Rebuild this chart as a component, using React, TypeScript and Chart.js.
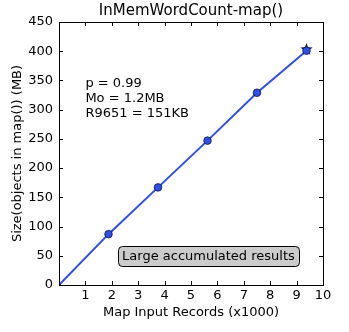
import React, { useEffect, useRef } from "react";
import { Chart, registerables } from "chart.js";
Chart.register(...registerables);

const TITLE = "InMemWordCount-map()";
const X_LABEL = "Map Input Records (x1000)";
const Y_LABEL = "Size(objects in map()) (MB)";
const recordsK = [0, 1.875, 3.75, 5.625, 7.5, 9.375];
const sizeMB = [0, 87, 167, 247, 329, 401];
const starX = [9.375];
const starY = [403];
const noteLines = ["p = 0.99", "Mo = 1.2MB", "R9651 = 151KB"];
const noteAnchor = { x: 1.0, y: 345 };
const boxText = "Large accumulated results";
const boxAnchor = { x: 5.66, y: 50 };

const FONT = "'DejaVu Sans', sans-serif";
const BLUE = "#2f4ee6";

const customPlugin = {
  id: "custom",
  beforeDatasetsDraw(chart: any) {
    const ctx = chart.ctx;
    const xs = chart.scales.x;
    const ys = chart.scales.y;
    const cx = xs.getPixelForValue(starX[0]);
    const cy = ys.getPixelForValue(starY[0]);
    ctx.save();
    ctx.beginPath();
    const R = 6.5, r = 2.7;
    for (let i = 0; i < 10; i++) {
      const a = -Math.PI / 2 + (i * Math.PI) / 5;
      const rad = i % 2 === 0 ? R : r;
      const px = cx + rad * Math.cos(a);
      const py = cy + rad * Math.sin(a);
      if (i === 0) ctx.moveTo(px, py);
      else ctx.lineTo(px, py);
    }
    ctx.closePath();
    ctx.fillStyle = "#1a1f4a";
    ctx.fill();
    ctx.restore();
  },
  afterDraw(chart: any) {
    const ctx = chart.ctx;
    const a = chart.chartArea;
    const xs = chart.scales.x;
    const ys = chart.scales.y;
    ctx.save();
    ctx.strokeStyle = "#000";
    ctx.lineWidth = 1;
    ctx.strokeRect(Math.round(a.left) + 0.5, Math.round(a.top) + 0.5, Math.round(a.right - a.left), Math.round(a.bottom - a.top));
    const tl = 4;
    ctx.beginPath();
    xs.ticks.forEach((t: any) => {
      const px = Math.round(xs.getPixelForValue(t.value)) + 0.5;
      ctx.moveTo(px, a.bottom);
      ctx.lineTo(px, a.bottom - tl);
      ctx.moveTo(px, a.top);
      ctx.lineTo(px, a.top + tl);
    });
    ys.ticks.forEach((t: any) => {
      const py = Math.round(ys.getPixelForValue(t.value)) + 0.5;
      ctx.moveTo(a.left, py);
      ctx.lineTo(a.left + tl, py);
      ctx.moveTo(a.right, py);
      ctx.lineTo(a.right - tl, py);
    });
    ctx.stroke();

    ctx.fillStyle = "#000";
    ctx.font = `13px ${FONT}`;
    ctx.textAlign = "center";
    ctx.textBaseline = "middle";
    xs.ticks.forEach((t: any) => {
      if (t.value === 0) return;
      ctx.fillText(String(t.value), xs.getPixelForValue(t.value), a.bottom + 11);
    });
    ctx.textAlign = "right";
    ys.ticks.forEach((t: any) => {
      ctx.fillText(String(t.value), a.left - 6, ys.getPixelForValue(t.value));
    });
    ctx.textAlign = "center";
    ctx.fillText(X_LABEL, (a.left + a.right) / 2, a.bottom + 28);
    ctx.save();
    ctx.translate(18, (a.top + a.bottom) / 2);
    ctx.rotate(-Math.PI / 2);
    ctx.fillText(Y_LABEL, 0, 0);
    ctx.restore();
    ctx.font = `15px ${FONT}`;
    ctx.fillText(TITLE, (a.left + a.right) / 2, a.top - 11);

    ctx.font = `13px ${FONT}`;
    ctx.textAlign = "left";
    const nx = xs.getPixelForValue(noteAnchor.x);
    const ny = ys.getPixelForValue(noteAnchor.y);
    noteLines.forEach((l, i) => ctx.fillText(l, nx, ny + i * 15));

    const bx = xs.getPixelForValue(boxAnchor.x);
    const by = ys.getPixelForValue(boxAnchor.y);
    const w = ctx.measureText(boxText).width + 8;
    const h = 20;
    const x0 = bx - w / 2, y0 = by - h / 2;
    ctx.beginPath();
    (ctx as any).roundRect(Math.round(x0) + 0.5, Math.round(y0) + 0.5, Math.round(w), h, 4);
    ctx.fillStyle = "#cccccc";
    ctx.fill();
    ctx.strokeStyle = "#000";
    ctx.stroke();
    ctx.fillStyle = "#000";
    ctx.textAlign = "center";
    ctx.fillText(boxText, bx, by + 1);
    ctx.restore();
  },
};

export default function App() {
  const ref = useRef<HTMLCanvasElement>(null);
  useEffect(() => {
    document.body.style.margin = "0";
    const chart = new Chart(ref.current!, {
      type: "scatter",
      data: {
        datasets: [
          {
            data: recordsK.map((x, i) => ({ x, y: sizeMB[i] })),
            showLine: true,
            borderColor: BLUE,
            borderWidth: 2,
            backgroundColor: BLUE,
            pointBackgroundColor: BLUE,
            pointBorderColor: "#101850",
            pointBorderWidth: 0.8,
            pointRadius: recordsK.map((x) => (x === 0 ? 1.5 : 3.8)),
          },
        ],
      },
      plugins: [customPlugin],
      options: {
        animation: false,
        responsive: false,
        devicePixelRatio: 1,
        layout: { padding: { left: 59, right: 26, top: 22, bottom: 47 } },
        plugins: {
          legend: { display: false },
          tooltip: { enabled: false },
          title: { display: false },
        },
        scales: {
          x: {
            type: "linear",
            min: 0,
            max: 10,
            grid: { display: false, drawTicks: false },
            border: { display: false },
            ticks: { stepSize: 1, display: false },
            title: { display: false },
          },
          y: {
            min: 0,
            max: 450,
            grid: { display: false, drawTicks: false },
            border: { display: false },
            ticks: { stepSize: 50, display: false },
            title: { display: false },
          },
        },
      },
    });
    return () => chart.destroy();
  }, []);
  return <canvas ref={ref} width={349} height={332} style={{ display: "block" }} />;
}
